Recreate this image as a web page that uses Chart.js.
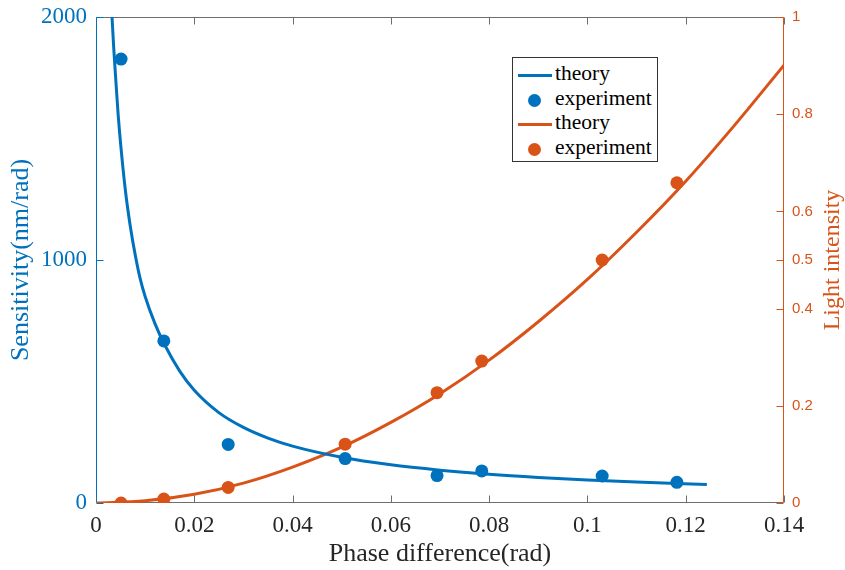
<!DOCTYPE html>
<html>
<head>
<meta charset="utf-8">
<script src="https://cdn.jsdelivr.net/npm/chart.js@4"></script>
<style>
  body { margin: 0; background: #fff; }
  #wrap { position: relative; width: 845px; height: 570px; }
  #legend {
    position: absolute; left: 512px; top: 57px; width: 144px; height: 103px;
    border: 1px solid #333; background: #fff;
    font-family: "Liberation Serif", serif; font-size: 21.5px; color: #000;
  }
  .row { position: absolute; left: 0; height: 24px; line-height: 24px; }
  .row span { position: absolute; left: 42px; top: -2px; white-space: nowrap; }
  .ln { position: absolute; left: 5px; top: 11px; width: 34px; height: 3px; }
  .dt { position: absolute; left: 15px; top: 6px; width: 13px; height: 13px; border-radius: 50%; }
</style>
</head>
<body>
<div id="wrap">
  <canvas id="grafico" width="845" height="570"></canvas>
  <div id="legend">
    <div class="row" style="top:5px"><div class="ln" style="background:#0072BD"></div><span>theory</span></div>
    <div class="row" style="top:30px"><div class="dt" style="background:#0072BD"></div><span>experiment</span></div>
    <div class="row" style="top:54px"><div class="ln" style="background:#D95319"></div><span>theory</span></div>
    <div class="row" style="top:79px"><div class="dt" style="background:#D95319"></div><span>experiment</span></div>
  </div>
</div>
<script>
const blue = '#0072BD';
const orange = '#D95319';
const serif = '"Liberation Serif", "Times New Roman", serif';

// theory curves
const sensTheoryX = [0.00326, 0.0036, 0.004, 0.0045, 0.005, 0.006, 0.007, 0.008, 0.009, 0.010, 0.012, 0.014, 0.017, 0.020, 0.025, 0.030, 0.035, 0.040, 0.050, 0.060, 0.070, 0.080, 0.090, 0.100, 0.110, 0.1243];
const sensTheoryY = [2000, 1875, 1750, 1600, 1480, 1283, 1136, 1019, 922, 850, 738, 650, 544, 464, 372, 311, 267, 234, 188, 157, 135, 118, 105, 94.5, 86, 76];
const lightTheoryX = [0, 0.01, 0.02, 0.03, 0.04, 0.05, 0.06, 0.07, 0.08, 0.09, 0.10, 0.11, 0.12, 0.13, 0.14];
const lightTheoryY = [0, 0.0046, 0.018, 0.041, 0.074, 0.115, 0.166, 0.225, 0.294, 0.373, 0.46, 0.557, 0.662, 0.778, 0.901];

// measured points
const expX = [0.0051, 0.0138, 0.0269, 0.0507, 0.0694, 0.0785, 0.1030, 0.1182];
const sensExp = [1827, 667, 241, 183, 113, 132, 111, 85];
const lightExp = [0, 0.008, 0.032, 0.121, 0.227, 0.292, 0.5, 0.659];

// axis ticks
const xTicks = [0, 0.02, 0.04, 0.06, 0.08, 0.1, 0.12, 0.14];
const leftTicks = [0, 1000, 2000];
const rightTicks = [0, 0.2, 0.4, 0.5, 0.6, 0.8, 1];

const pts = (xs, ys) => xs.map((x, i) => ({x: x, y: ys[i]}));
const noPad = s => { s.paddingTop = 0; s.paddingBottom = 0; };

Chart.defaults.font.family = serif;

// box, inward ticks and the right axis title
const marco = {
    id: 'marco',
    beforeDatasetsDraw(chart) {
        const c = chart.ctx;
        const a = chart.chartArea;
        const sx = chart.scales.x, yl = chart.scales.y, yr = chart.scales.y2;
        const L = Math.round(a.left) + 0.5, R = Math.round(a.right) - 0.5;
        const T = Math.round(a.top) + 0.5, B = Math.round(a.bottom) - 0.5;
        c.save();
        c.lineWidth = 1;
        c.strokeStyle = '#6e6e6e';
        c.beginPath();
        c.moveTo(L, B); c.lineTo(R, B);
        c.moveTo(L, T); c.lineTo(R, T);
        xTicks.forEach(v => {
            const px = Math.round(sx.getPixelForValue(v)) + 0.5;
            c.moveTo(px, B); c.lineTo(px, B - 7);
            c.moveTo(px, T); c.lineTo(px, T + 7);
        });
        c.stroke();
        c.strokeStyle = blue;
        c.beginPath();
        c.moveTo(L, T); c.lineTo(L, B);
        leftTicks.forEach(v => {
            const py = Math.round(yl.getPixelForValue(v)) + 0.5;
            c.moveTo(L, py); c.lineTo(L + 7, py);
        });
        c.stroke();
        c.strokeStyle = orange;
        c.beginPath();
        c.moveTo(R, T); c.lineTo(R, B);
        rightTicks.forEach(v => {
            const py = Math.round(yr.getPixelForValue(v)) + 0.5;
            c.moveTo(R, py); c.lineTo(R - 7, py);
        });
        c.stroke();
        c.restore();
    },
    afterDraw(chart) {
        const c = chart.ctx;
        const yr = chart.scales.y2;
        c.save();
        c.translate(833, (yr.top + yr.bottom) / 2);
        c.rotate(-Math.PI / 2);
        c.textAlign = 'center';
        c.textBaseline = 'middle';
        c.fillStyle = orange;
        c.font = '24px ' + serif;
        c.fillText('Light intensity', 0, 0);
        c.restore();
    }
};

const ctx = document.getElementById('grafico').getContext('2d');

const myChart = new Chart(ctx, {
    type: 'scatter',
    data: {
        datasets: [
            {
                label: 'experiment',
                data: pts(expX, sensExp),
                yAxisID: 'y',
                backgroundColor: blue,
                pointRadius: 6.5,
                borderWidth: 0,
                order: 0,
            },
            {
                label: 'experiment',
                data: pts(expX, lightExp),
                yAxisID: 'y2',
                backgroundColor: orange,
                pointRadius: 6.5,
                borderWidth: 0,
                order: 0,
            },
            {
                label: 'theory',
                data: pts(sensTheoryX, sensTheoryY),
                yAxisID: 'y',
                showLine: true,
                borderColor: blue,
                borderWidth: 3,
                pointRadius: 0,
                cubicInterpolationMode: 'monotone',
                order: 1,
            },
            {
                label: 'theory',
                data: pts(lightTheoryX, lightTheoryY),
                yAxisID: 'y2',
                showLine: true,
                borderColor: orange,
                borderWidth: 3,
                pointRadius: 0,
                cubicInterpolationMode: 'monotone',
                order: 1,
            },
        ],
    },
    options: {
        responsive: false,
        animation: false,
        devicePixelRatio: 1,
        layout: { padding: { top: 17, left: 0, right: 0, bottom: 0 } },
        plugins: { legend: { display: false }, tooltip: { enabled: false } },
        scales: {
            x: {
                type: 'linear',
                min: 0, max: 0.14,
                afterBuildTicks: s => { s.ticks = xTicks.map(v => ({value: v})); },
                afterFit: s => { s.height = 67; s.paddingLeft = 0; s.paddingRight = 0; },
                grid: { display: false, drawTicks: false },
                border: { display: false },
                ticks: {
                    padding: 9,
                    color: '#262626',
                    font: { family: serif, size: 23 },
                    callback: v => String(+v.toFixed(2)),
                },
                title: {
                    display: true,
                    text: 'Phase difference(rad)',
                    color: '#262626',
                    font: { family: serif, size: 26 },
                    padding: { top: 0, bottom: 0 },
                },
            },
            y: {
                position: 'left',
                min: 0, max: 2000,
                afterBuildTicks: s => { s.ticks = leftTicks.map(v => ({value: v})); },
                afterFit: s => { s.width = 96; noPad(s); },
                grid: { display: false, drawTicks: false },
                border: { display: false },
                ticks: {
                    padding: 9,
                    color: blue,
                    font: { family: serif, size: 23 },
                    callback: v => String(v),
                },
                title: {
                    display: true,
                    text: 'Sensitivity(nm/rad)',
                    color: blue,
                    font: { family: serif, size: 26 },
                    padding: { top: 6, bottom: 0 },
                },
            },
            y2: {
                position: 'right',
                min: 0, max: 1,
                afterBuildTicks: s => { s.ticks = rightTicks.map(v => ({value: v})); },
                afterFit: s => { s.width = 61; noPad(s); },
                grid: { display: false, drawTicks: false },
                border: { display: false },
                ticks: {
                    padding: 8,
                    color: orange,
                    font: { family: '"Liberation Sans", Arial, sans-serif', size: 15 },
                    callback: v => String(v),
                },
            },
        },
    },
    plugins: [marco],
});
</script>
</body>
</html>
